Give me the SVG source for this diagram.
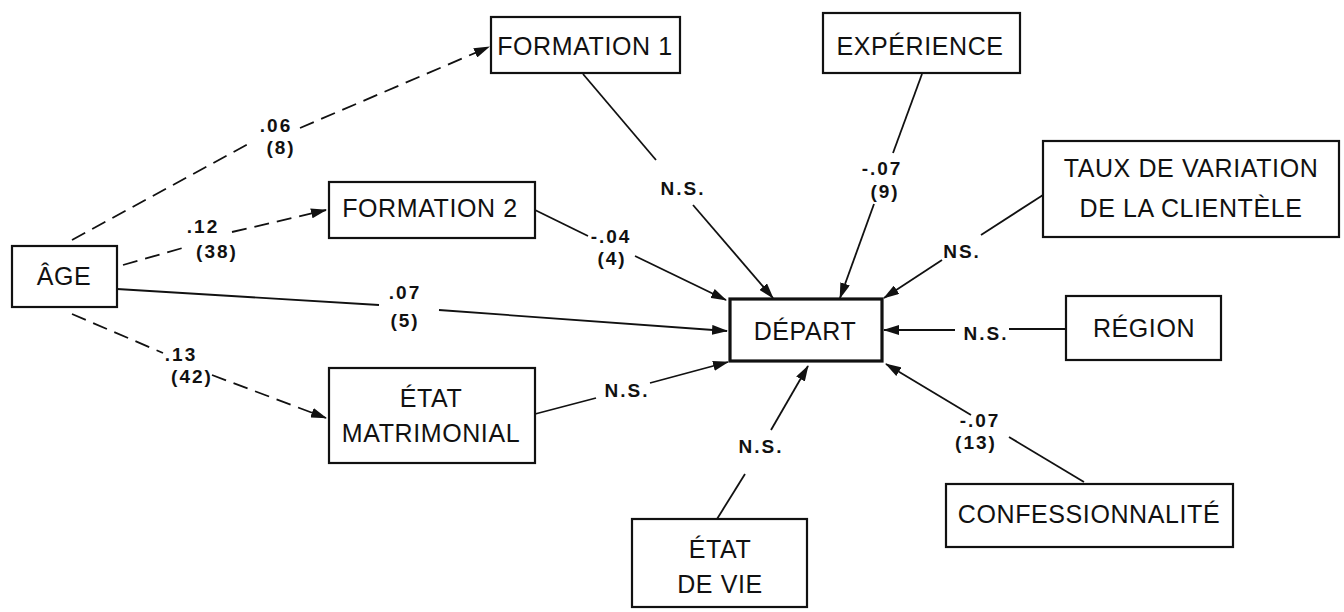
<svg xmlns="http://www.w3.org/2000/svg" width="1344" height="612" viewBox="0 0 1344 612">
<style>
.box{fill:#fff;stroke:#111;stroke-width:2.2}
.main{fill:#fff;stroke:#111;stroke-width:3.2}
.t{font-family:"Liberation Sans",Arial,sans-serif;font-size:25px;fill:#111;text-anchor:middle;letter-spacing:0.6px}
.l{font-family:"Liberation Sans",Arial,sans-serif;font-size:19px;font-weight:bold;fill:#111;text-anchor:middle;letter-spacing:2px}
.c{stroke:#111;stroke-width:1.8;fill:none}
.d{stroke-dasharray:15 8}
</style>
<defs>
<marker id="ah" markerWidth="16" markerHeight="10" refX="15" refY="5" orient="auto" markerUnits="userSpaceOnUse">
<path d="M0,0 L16,5 L0,10 Z" fill="#111"/>
</marker>
</defs>
<rect width="1344" height="612" fill="#fff"/>
<g id="connectors">
<line class="c d" x1="72" y1="240" x2="250" y2="143"/>
<line class="c d" x1="300" y1="128" x2="489" y2="47" marker-end="url(#ah)"/>
<line class="c d" x1="123" y1="265" x2="186" y2="247"/>
<line class="c d" x1="232" y1="232" x2="326" y2="210" marker-end="url(#ah)"/>
<line class="c" x1="117" y1="289" x2="379" y2="305"/>
<line class="c" x1="439" y1="310" x2="727" y2="331" marker-end="url(#ah)"/>
<line class="c d" x1="72" y1="314" x2="163" y2="353"/>
<line class="c d" x1="212" y1="375" x2="326" y2="418" marker-end="url(#ah)"/>
<line class="c" x1="535" y1="210" x2="588" y2="236"/>
<line class="c" x1="635" y1="256" x2="726" y2="300" marker-end="url(#ah)"/>
<line class="c" x1="583" y1="74" x2="656" y2="160"/>
<line class="c" x1="693" y1="205" x2="773" y2="298" marker-end="url(#ah)"/>
<line class="c" x1="922" y1="74" x2="893" y2="153"/>
<line class="c" x1="874" y1="204" x2="840" y2="298" marker-end="url(#ah)"/>
<line class="c" x1="1043" y1="195" x2="981" y2="235"/>
<line class="c" x1="942" y1="260" x2="884" y2="298" marker-end="url(#ah)"/>
<line class="c" x1="1066" y1="329" x2="1009" y2="329"/>
<line class="c" x1="955" y1="330" x2="884" y2="330" marker-end="url(#ah)"/>
<line class="c" x1="535" y1="414" x2="596" y2="398"/>
<line class="c" x1="650" y1="383" x2="728" y2="362" marker-end="url(#ah)"/>
<line class="c" x1="717" y1="519" x2="745" y2="474"/>
<line class="c" x1="771" y1="430" x2="808" y2="366" marker-end="url(#ah)"/>
<line class="c" x1="1084" y1="482" x2="1009" y2="437"/>
<line class="c" x1="971" y1="415" x2="886" y2="364" marker-end="url(#ah)"/>
</g>
<g id="labels">
<text class="l" x="276" y="132">.06</text>
<text class="l" x="281" y="154">(8)</text>
<text class="l" x="203" y="233">.12</text>
<text class="l" x="217" y="258">(38)</text>
<text class="l" x="405" y="299">.07</text>
<text class="l" x="405" y="327">(5)</text>
<text class="l" x="181" y="361">.13</text>
<text class="l" x="192" y="383">(42)</text>
<text class="l" x="611" y="243">-.04</text>
<text class="l" x="612" y="265">(4)</text>
<text class="l" x="683" y="195">N.S.</text>
<text class="l" x="882" y="175">-.07</text>
<text class="l" x="885" y="198">(9)</text>
<text class="l" x="962" y="258">NS.</text>
<text class="l" x="986" y="340">N.S.</text>
<text class="l" x="627" y="397">N.S.</text>
<text class="l" x="761" y="453">N.S.</text>
<text class="l" x="980" y="427">-.07</text>
<text class="l" x="976" y="449">(13)</text>
</g>
<g id="age"><rect class="box" x="12" y="246" width="105" height="61"/><text class="t" x="64" y="285">ÂGE</text></g>
<g id="formation1"><rect class="box" x="491" y="17" width="189" height="56"/><text class="t" x="585" y="55">FORMATION 1</text></g>
<g id="formation2"><rect class="box" x="329" y="182" width="206" height="56"/><text class="t" x="430" y="217">FORMATION 2</text></g>
<g id="etat-matrimonial"><rect class="box" x="329" y="368" width="206" height="95"/><text class="t" x="431" y="407">ÉTAT</text><text class="t" x="431" y="442">MATRIMONIAL</text></g>
<g id="experience"><rect class="box" x="823" y="13" width="197" height="60"/><text class="t" x="920" y="55">EXPÉRIENCE</text></g>
<g id="taux"><rect class="box" x="1043" y="141" width="296" height="96"/><text class="t" x="1191" y="177">TAUX DE VARIATION</text><text class="t" x="1191" y="217">DE LA CLIENTÈLE</text></g>
<g id="depart"><rect class="main" x="730" y="299" width="152" height="62"/><text class="t" x="805" y="340">DÉPART</text></g>
<g id="region"><rect class="box" x="1066" y="296" width="155" height="64"/><text class="t" x="1144" y="337">RÉGION</text></g>
<g id="confessionnalite"><rect class="box" x="946" y="484" width="287" height="63"/><text class="t" x="1089" y="523">CONFESSIONNALITÉ</text></g>
<g id="etat-de-vie"><rect class="box" x="632" y="519" width="175" height="88"/><text class="t" x="720" y="558">ÉTAT</text><text class="t" x="720" y="593">DE VIE</text></g>
</svg>
